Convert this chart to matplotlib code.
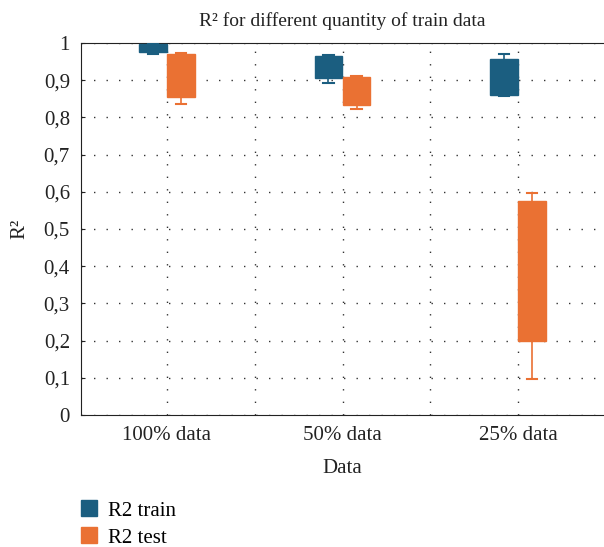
import matplotlib
matplotlib.use("Agg")
import matplotlib.pyplot as plt
from matplotlib.lines import Line2D
from matplotlib.ticker import FixedLocator, FuncFormatter

groups = ["100% data", "50% data", "25% data"]
series = ["R2 train", "R2 test"]
colors = ["#1b5e80", "#ea7133"]

# box stats: whislo, q1, med, q3, whishi
train_stats = [
    (0.970, 0.975, 0.985, 0.996, 1.000),
    (0.892, 0.905, 0.955, 0.966, 0.967),
    (0.857, 0.860, 0.885, 0.956, 0.970),
]
test_stats = [
    (0.835, 0.855, 0.940, 0.970, 0.973),
    (0.822, 0.832, 0.887, 0.908, 0.911),
    (0.098, 0.198, 0.510, 0.576, 0.596),
]

plt.rcParams["font.family"] = ["Liberation Serif", "DejaVu Serif"]

fig = plt.figure(figsize=(6.04, 5.47), dpi=100)
ax = fig.add_axes([81 / 604, 1 - 415 / 547, 523 / 604, 372 / 547])

def to_bxp(stats):
    return [dict(whislo=s[0], q1=s[1], med=s[2], q3=s[3], whishi=s[4], fliers=[]) for s in stats]

offsets = [-0.08, 0.08]
for k, stats in enumerate([train_stats, test_stats]):
    pos = [i + offsets[k] for i in range(len(groups))]
    c = colors[k]
    ax.bxp(to_bxp(stats), positions=pos, widths=0.155, patch_artist=True,
           showfliers=False, manage_ticks=False,
           boxprops=dict(facecolor=c, edgecolor=c, linewidth=1),
           whiskerprops=dict(color=c, linewidth=1.2),
           capprops=dict(color=c, linewidth=1.5),
           medianprops=dict(color=c, linewidth=1),
           capwidths=0.06, zorder=3)

ax.set_xlim(-0.49, 2.49)
ax.set_ylim(0, 1)
ax.xaxis.set_major_locator(FixedLocator(range(len(groups))))
ax.set_xticklabels(groups)
ax.xaxis.set_minor_locator(FixedLocator([0.5, 1.5]))
ax.yaxis.set_major_locator(FixedLocator([i / 10 for i in range(11)]))
ax.yaxis.set_major_formatter(FuncFormatter(lambda v, p: "0" if v == 0 else ("1" if v == 1 else f"{v:.1f}".replace(".", ","))))
ax.tick_params(which="both", length=0, labelsize=15, colors="#222222")
ax.tick_params(axis="x", pad=8)
ax.tick_params(axis="y", which="major", direction="in", length=3, pad=8)
ax.grid(True, which="both", linestyle=(0, (1, 8)), color="#333333", linewidth=1)
ax.spines["right"].set_visible(False)
for s in ["left", "top", "bottom"]:
    ax.spines[s].set_color("#222222")

ax.set_title("R² for different quantity of train data", fontsize=14, pad=12, color="#222222")
ax.set_ylabel("R²", fontsize=15, labelpad=10, color="#222222")
ax.set_xlabel("Data", fontsize=15, labelpad=10, color="#222222")

handles = [Line2D([], [], marker="s", linestyle="none", markersize=12, color=c) for c in colors]
fig.legend(handles, series, loc="upper left", bbox_to_anchor=(0.095, 0.1 + 10 / 547), frameon=False,
           fontsize=15, handletextpad=0.35, labelspacing=0.35, handlelength=1.2)

fig.savefig("out.png", dpi=100)
